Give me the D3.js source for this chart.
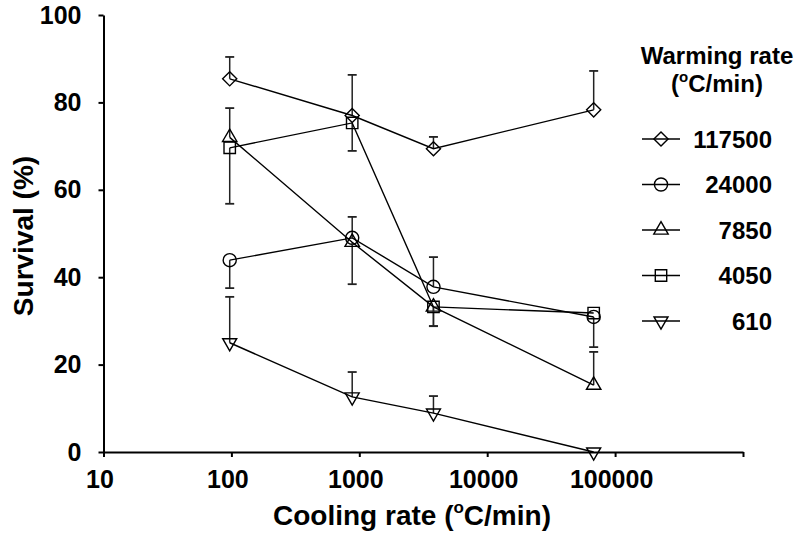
<!DOCTYPE html>
<html>
<head>
<meta charset="utf-8">
<script src="https://cdn.jsdelivr.net/npm/d3@7"></script>
<style>
  html, body { margin: 0; padding: 0; background: #fff; }
  svg { display: block; font-family: "Liberation Sans", Arial, sans-serif; }
</style>
</head>
<body>
<svg id="chart" width="800" height="535"></svg>
<script>
// ---- data ----
const coolingRates = [97, 880, 3800, 68000];
const seriesNames = ["117500", "24000", "7850", "4050", "610"];
const survival117500 = [85.4, 77.0, 69.4, 78.3];
const survival24000 = [43.9, 49.0, 37.8, 30.9];
const survival7850 = [72.0, 48.0, 33.2, 15.3];
const survival4050 = [69.6, 75.3, 33.2, 31.8];
const survival610 = [25.0, 12.6, 8.9, 0.0];
// error bar lengths (upper / lower)
const errUp117500 = [5.0, 9.3, 2.7, 8.9];
const errDown117500 = [0, 0, 0, 0];
const errUp24000 = [0, 4.8, 6.8, 0];
const errDown24000 = [6.4, 0, 0, 6.9];
const errUp7850 = [6.7, 0, 0, 7.6];
const errDown7850 = [0, 9.6, 4.4, 0];
const errUp4050 = [0, 0, 0, 0];
const errDown4050 = [12.8, 6.4, 4.4, 0];
const errUp610 = [10.5, 5.7, 3.9, 0];
const errDown610 = [0, 0, 0, 0];
const xTickValues = [10, 100, 1000, 10000, 100000, 1000000];
const xTickLabels = ["10", "100", "1000", "10000", "100000", ""];
const yTickValues = [0, 20, 40, 60, 80, 100];

const seriesValues = [survival117500, survival24000, survival7850, survival4050, survival610];
const seriesErrUp = [errUp117500, errUp24000, errUp7850, errUp4050, errUp610];
const seriesErrDown = [errDown117500, errDown24000, errDown7850, errDown4050, errDown610];
const seriesShapes = ["diamond", "circle", "triangle", "square", "triangleDown"];

// ---- layout ----
const svg = d3.select("#chart");
const x = d3.scaleLog().domain([10, 1000000]).range([103.5, 743]);
const y = d3.scaleLinear().domain([0, 100]).range([452, 15]);

function symbolPath(shape) {
  switch (shape) {
    case "diamond": return d3.symbol().type(d3.symbolSquare).size(100)();
    case "circle": return d3.symbol().type(d3.symbolCircle).size(135)();
    case "triangle": return d3.symbol().type(d3.symbolTriangle).size(90)();
    case "square": return d3.symbol().type(d3.symbolSquare).size(130)();
    case "triangleDown": return d3.symbol().type(d3.symbolTriangle).size(85)();
  }
}
function symbolRotate(shape) {
  return shape === "diamond" ? 45 : (shape === "triangleDown" ? 180 : 0);
}

// axes
const xAxis = d3.axisBottom(x).tickValues(xTickValues)
  .tickFormat((d, i) => xTickLabels[i]).tickSizeInner(5).tickSizeOuter(0).tickPadding(13);
const gx = svg.append("g").attr("transform", `translate(0,${y(0)})`).call(xAxis);
gx.select(".domain").attr("stroke", "#000").attr("stroke-width", 2);
gx.selectAll(".tick line").attr("stroke", "#000").attr("stroke-width", 2);
gx.selectAll(".tick text").attr("fill", "#000").attr("font-size", 25).attr("font-weight", "bold")
  .attr("font-family", "Liberation Sans, Arial, sans-serif").attr("dx", -4);
const yAxis = d3.axisLeft(y).tickValues(yTickValues).tickSizeInner(5).tickSizeOuter(0).tickPadding(17);
const gy = svg.append("g").attr("transform", `translate(${x(10)},0)`).call(yAxis);
gy.select(".domain").attr("stroke", "#000").attr("stroke-width", 2);
gy.selectAll(".tick line").attr("stroke", "#000").attr("stroke-width", 2);
gy.selectAll(".tick text").attr("fill", "#000").attr("font-size", 25).attr("font-weight", "bold")
  .attr("font-family", "Liberation Sans, Arial, sans-serif");

// axis titles
const xt = svg.append("text").attr("x", 412).attr("y", 525).attr("text-anchor", "middle")
  .attr("font-size", 28).attr("font-weight", "bold").attr("fill", "#000");
xt.append("tspan").text("Cooling rate (");
xt.append("tspan").attr("font-size", 17).attr("dy", -12).text("o");
xt.append("tspan").attr("dy", 12).text("C/min)");

svg.append("text").attr("transform", "translate(33,236) rotate(-90)").attr("text-anchor", "middle")
  .attr("font-size", 28).attr("font-weight", "bold").attr("fill", "#000").text("Survival (%)");

// plot
const plot = svg.append("g");
seriesValues.forEach((vals, si) => {
  const g = plot.append("g");
  vals.forEach((v, i) => {
    const cx = x(coolingRates[i]);
    const up = seriesErrUp[si][i], dn = seriesErrDown[si][i];
    [[up, 1], [dn, -1]].forEach(([e, s]) => {
      if (e > 0) {
        const ye = y(v + s * e);
        g.append("line").attr("x1", cx).attr("x2", cx).attr("y1", y(v)).attr("y2", ye)
          .attr("stroke", "#222").attr("stroke-width", 1.5);
        g.append("line").attr("x1", cx - 4.5).attr("x2", cx + 4.5).attr("y1", ye).attr("y2", ye)
          .attr("stroke", "#222").attr("stroke-width", 1.8);
      }
    });
  });
  const line = d3.line().x((d, i) => x(coolingRates[i])).y(d => y(d));
  g.append("path").datum(vals).attr("d", line).attr("fill", "none")
    .attr("stroke", "#000").attr("stroke-width", 1.4);
  g.selectAll("path.m").data(vals).enter().append("path").attr("class", "m")
    .attr("d", symbolPath(seriesShapes[si]))
    .attr("transform", (d, i) => `translate(${x(coolingRates[i])},${y(d)}) rotate(${symbolRotate(seriesShapes[si])})`)
    .attr("fill", "none").attr("stroke", "#000").attr("stroke-width", 1.4);
});

// legend
const lg = svg.append("g");
lg.append("text").attr("x", 717).attr("y", 64).attr("text-anchor", "middle")
  .attr("font-size", 24).attr("font-weight", "bold").attr("fill", "#000").text("Warming rate");
const lt = lg.append("text").attr("x", 717).attr("y", 92).attr("text-anchor", "middle")
  .attr("font-size", 24).attr("font-weight", "bold").attr("fill", "#000");
lt.append("tspan").text("(");
lt.append("tspan").attr("font-size", 15).attr("dy", -10).text("o");
lt.append("tspan").attr("dy", 10).text("C/min)");

const legendY = d3.scalePoint().domain(seriesNames).range([139, 321]);
seriesNames.forEach((name, si) => {
  const ly = legendY(name);
  lg.append("line").attr("x1", 642).attr("x2", 680).attr("y1", ly).attr("y2", ly)
    .attr("stroke", "#000").attr("stroke-width", 1.4);
  lg.append("path").attr("d", symbolPath(seriesShapes[si]))
    .attr("transform", `translate(661,${ly}) rotate(${symbolRotate(seriesShapes[si])})`)
    .attr("fill", "none").attr("stroke", "#000").attr("stroke-width", 1.4);
  lg.append("text").attr("x", 772).attr("y", ly + 8.5).attr("text-anchor", "end")
    .attr("font-size", 24).attr("font-weight", "bold").attr("fill", "#000").text(name);
});
</script>
</body>
</html>
